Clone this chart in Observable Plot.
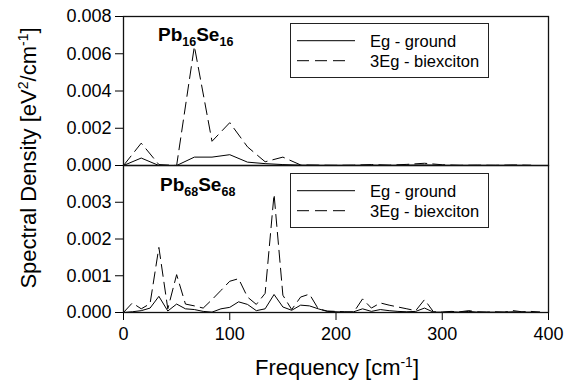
<!DOCTYPE html>
<html>
<head>
<meta charset="utf-8">
<script src="https://cdn.jsdelivr.net/npm/d3@7"></script>
<script src="https://cdn.jsdelivr.net/npm/@observablehq/plot@0.6"></script>
<style>
  html, body { margin: 0; padding: 0; background: white; }
  #chart { position: relative; width: 566px; height: 381px; background: white; font-family: "Liberation Sans", Arial, sans-serif; color: black; overflow: hidden; }
  .abs { position: absolute; white-space: nowrap; }
  .ytitle { font-size: 22px; line-height: 22px; }
  .xtitle { font-size: 22px; line-height: 22px; }
  .panel { font-size: 19px; font-weight: bold; line-height: 19px; }
  .panel sub { font-size: 12.5px; vertical-align: -5px; line-height: 0; }
  sup { font-size: 14px; line-height: 0; vertical-align: 8px; }
  .legend { border: 1px solid #222; background: white; box-sizing: border-box; }
</style>
</head>
<body>
<div id="chart"></div>
<script>
// ---- Data ----
const freqTop = [0, 16.7, 33.3, 50, 66.7, 83.3, 100, 116.7, 133.3, 150, 166.7, 183.3, 200, 216.7, 233.3, 250, 266.7, 283.3, 300, 316.7, 333.3, 350, 366.7, 383.3];
const groundTop = [0, 0.0004, 0, 0, 0.00045, 0.00045, 0.00058, 0.00018, 0.0001, 0.00005, 0.00002, 0.00001, 0.00001, 0.00001, 0.00002, 0.00001, 0.00002, 0.00003, 0.00001, 0.00001, 0.00001, 0.00001, 0.00001, 0.00001];
const biexTop = [0, 0.0012, 0.00005, 0, 0.0064, 0.0013, 0.0023, 0.001, 0.0002, 0.00045, 0.00003, 0.00002, 0.00001, 0.00002, 0.00005, 0.00002, 0.00006, 0.00012, 0.00004, 0.00001, 0.00002, 0.00001, 0.00003, 0.00001];

const freqBottom = [0, 8.3, 16.7, 25, 33.3, 41.7, 50, 58.3, 66.7, 75, 83.3, 91.7, 100, 108.3, 116.7, 125, 133.3, 141.7, 150, 158.3, 166.7, 175, 183.3, 191.7, 200, 208.3, 216.7, 225, 233.3, 241.7, 250, 258.3, 266.7, 275, 283.3, 291.7, 300, 308.3, 316.7, 325, 333.3, 341.7, 350, 358.3, 366.7, 375, 383.3, 391.7];
const groundBottom = [0, 0.00002, 0.00005, 0.00012, 0.00044, 0.00004, 0.00023, 0.0001, 0.00008, 0.00003, 0.00001, 0.0001, 0.00014, 0.00029, 0.00022, 0.00005, 0.0001, 0.00049, 0.00015, 0.00006, 0.0002, 0.00018, 0.0001, 0.00003, 0.00002, 0.00001, 0.00002, 0.0001, 0.00003, 0.00008, 0.00005, 0.00003, 0.00002, 0.00003, 0.00012, 0.00001, 0.00001, 0.00002, 0.00001, 0.00003, 0.00001, 0.00001, 0.00001, 0.00001, 0.00002, 0.00001, 0.00001, 0.00001];
const biexBottom = [0, 0.00026, 0.0001, 0.00024, 0.00177, 0.0001, 0.00103, 0.00023, 0.00018, 0.00012, 0.00035, 0.0006, 0.00085, 0.00092, 0.00042, 0.00022, 0.00052, 0.00322, 0.00047, 0.00008, 0.00042, 0.0005, 0.0001, 0.00004, 0.00003, 0.00002, 0.00001, 0.00037, 0.00012, 0.00026, 0.0002, 0.00015, 0.0001, 0.00005, 0.00035, 0.00002, 0.00001, 0.00003, 0.00002, 0.00005, 0.00002, 0.00001, 0.00002, 0.00001, 0.00005, 0.00002, 0.00003, 0.00001];

const xTicks = [0, 100, 200, 300, 400];
const yTicksTop = [0, 0.002, 0.004, 0.006, 0.008];
const yTicksBottom = [0, 0.001, 0.002, 0.003];
const seriesNames = ["Eg - ground", "3Eg - biexciton"];
const panelNames = [["Pb", "16", "Se", "16"], ["Pb", "68", "Se", "68"]];

// ---- Build ----
const topRows = freqTop.map((f, i) => ({f, g: groundTop[i], b: biexTop[i]}));
const botRows = freqBottom.map((f, i) => ({f, g: groundBottom[i], b: biexBottom[i]}));

const W = 566, H = 381;
const ML = 123, MR = 18;
const svgStyle = "position:absolute;left:0;top:0;background:transparent;overflow:visible;font-family:'Liberation Sans',Arial,sans-serif;font-size:18px;color:black;";
const DASH = "12,6";

const topPlot = Plot.plot({
  width: W, height: H,
  marginLeft: ML, marginRight: MR, marginTop: 16, marginBottom: H - 165,
  style: svgStyle,
  x: {domain: [0, 400], axis: null},
  y: {domain: [0, 0.008], ticks: yTicksTop, tickFormat: d3.format(".3f"), tickSize: 8, tickPadding: 4, label: null},
  marks: [
    Plot.line(topRows, {x: "f", y: "g", stroke: "black", strokeWidth: 1}),
    Plot.line(topRows, {x: "f", y: "b", stroke: "black", strokeWidth: 1, strokeDasharray: DASH}),
    Plot.frame({stroke: "#111", strokeWidth: 1.3})
  ]
});

const botPlot = Plot.plot({
  width: W, height: H,
  marginLeft: ML, marginRight: MR, marginTop: 165, marginBottom: H - 312,
  style: svgStyle,
  x: {domain: [0, 400], ticks: xTicks, tickSize: 8, tickPadding: 7, label: null},
  y: {domain: [0, 0.004], ticks: yTicksBottom, tickFormat: d3.format(".3f"), tickSize: 8, tickPadding: 4, label: null},
  marks: [
    Plot.line(botRows, {x: "f", y: "g", stroke: "black", strokeWidth: 1}),
    Plot.line(botRows, {x: "f", y: "b", stroke: "black", strokeWidth: 1, strokeDasharray: DASH}),
    Plot.frame({stroke: "#111", strokeWidth: 1.3})
  ]
});

const chart = document.getElementById("chart");
chart.appendChild(botPlot);
chart.appendChild(topPlot);

// Axis titles
const yt = document.createElement("div");
yt.className = "abs ytitle";
yt.innerHTML = "Spectral Density [eV<sup>2</sup>/cm<sup>-1</sup>]";
yt.style.left = "29px"; yt.style.top = "158px";
yt.style.transform = "translate(-50%,-50%) rotate(-90deg)";
chart.appendChild(yt);

const xt = document.createElement("div");
xt.className = "abs xtitle";
xt.innerHTML = "Frequency [cm<sup>-1</sup>]";
xt.style.left = "337px"; xt.style.top = "357px";
xt.style.transform = "translateX(-50%)";
chart.appendChild(xt);

// Panel labels
[[158, 25], [160, 175]].forEach(([l, t], k) => {
  const p = panelNames[k];
  const d = document.createElement("div");
  d.className = "abs panel";
  d.innerHTML = `${p[0]}<sub>${p[1]}</sub>${p[2]}<sub>${p[3]}</sub>`;
  d.style.left = l + "px"; d.style.top = t + "px";
  chart.appendChild(d);
});

// Legends
[23, 173].forEach(top => {
  const box = document.createElement("div");
  box.className = "abs legend";
  box.style.left = "290px"; box.style.top = top + "px";
  box.style.width = "199px"; box.style.height = "55px";
  const ns = "http://www.w3.org/2000/svg";
  const s = document.createElementNS(ns, "svg");
  s.setAttribute("width", 197); s.setAttribute("height", 53);
  s.style.position = "absolute"; s.style.left = "0"; s.style.top = "0";
  [[16.7, null], [36.7, DASH]].forEach(([y, dash], i) => {
    const ln = document.createElementNS(ns, "line");
    ln.setAttribute("x1", 6); ln.setAttribute("x2", i === 0 ? 64 : 60);
    ln.setAttribute("y1", y); ln.setAttribute("y2", y);
    ln.setAttribute("stroke", "black"); ln.setAttribute("stroke-width", 1);
    if (dash) ln.setAttribute("stroke-dasharray", dash);
    s.appendChild(ln);
    const tx = document.createElementNS(ns, "text");
    tx.setAttribute("x", 79); tx.setAttribute("y", y + 6.5);
    tx.setAttribute("font-size", "16.5px");
    tx.setAttribute("font-family", "'Liberation Sans', Arial, sans-serif");
    tx.textContent = seriesNames[i];
    s.appendChild(tx);
  });
  box.appendChild(s);
  chart.appendChild(box);
});
</script>
</body>
</html>
